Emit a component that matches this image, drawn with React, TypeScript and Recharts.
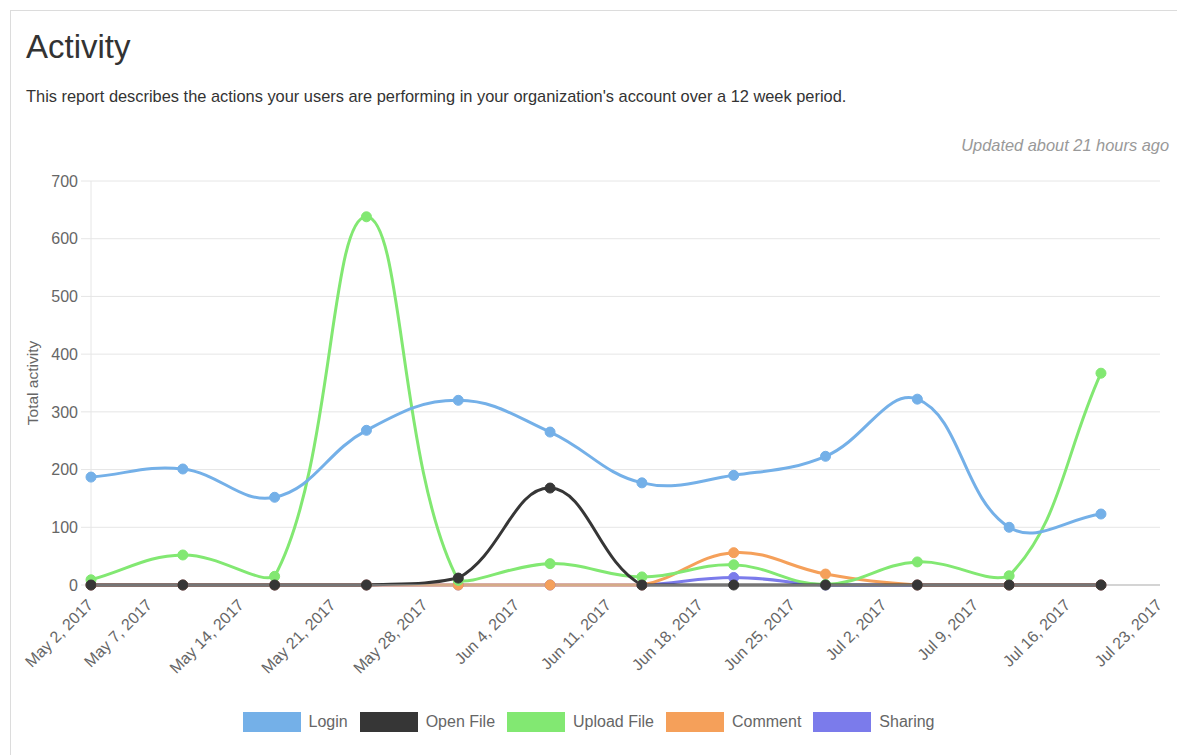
import React from 'react';
import { LineChart, Line, XAxis, YAxis, CartesianGrid, Legend } from 'recharts';

// weekly buckets (the points sit around midday)
const weekDates = [
  '2017-05-02', '2017-05-09', '2017-05-16', '2017-05-23', '2017-05-30', '2017-06-06',
  '2017-06-13', '2017-06-20', '2017-06-27', '2017-07-04', '2017-07-11', '2017-07-18',
];
const tickDates = [
  '2017-05-07', '2017-05-14', '2017-05-21', '2017-05-28', '2017-06-04', '2017-06-11',
  '2017-06-18', '2017-06-25', '2017-07-02', '2017-07-09', '2017-07-16', '2017-07-23',
];

const login = [187, 201, 152, 268, 320, 265, 177, 190, 223, 322, 100, 123];
const openFile = [0, 0, 0, 0, 12, 168, 0, 0, 0, 0, 0, 0];
const uploadFile = [9, 52, 15, 638, 8, 37, 14, 35, 1, 40, 16, 367];
const comment = [0, 0, 0, 0, 0, 0, 0, 56, 19, 0, 0, 0];
const sharing = [0, 0, 0, 0, 0, 0, 0, 13, 0, 0, 0, 0];

const yTicks = [0, 100, 200, 300, 400, 500, 600, 700];

const series = [
  { key: 'login', name: 'Login', color: '#74b0e8', values: login },
  { key: 'openFile', name: 'Open File', color: '#363636', values: openFile },
  { key: 'uploadFile', name: 'Upload File', color: '#82e872', values: uploadFile },
  { key: 'comment', name: 'Comment', color: '#f5a05a', values: comment },
  { key: 'sharing', name: 'Sharing', color: '#7b7beb', values: sharing },
];

const MONTHS = ['Jan', 'Feb', 'Mar', 'Apr', 'May', 'Jun', 'Jul', 'Aug', 'Sep', 'Oct', 'Nov', 'Dec'];
const pointTs = (d: string) => Date.parse(d + 'T12:00:00Z');
const dayTs = (d: string) => Date.parse(d + 'T00:00:00Z');
const fmtDate = (v: number) => {
  const d = new Date(v);
  return `${MONTHS[d.getUTCMonth()]} ${d.getUTCDate()}, ${d.getUTCFullYear()}`;
};

const data = weekDates.map((d, i) => {
  const row: Record<string, number> = { t: pointTs(d) };
  series.forEach((s) => (row[s.key] = s.values[i]));
  return row;
});
const xTicks = [pointTs(weekDates[0]), ...tickDates.map(dayTs)];
const xDomain = [pointTs(weekDates[0]), dayTs(tickDates[tickDates.length - 1])];

const FONT = '"Liberation Sans", Arial, sans-serif';
const CHART_W = 1177;
const CHART_H = 605;
const MARGIN = { top: 31, right: 17, left: 0, bottom: 70 };
const X_AXIS_H = 100;
const PLOT_TOP = MARGIN.top;
const PLOT_BOTTOM = CHART_H - MARGIN.bottom - X_AXIS_H;

// chart.js-like spline (tension 0.4) with control points capped to the plot area
function splineCurve(tension: number, top: number, bottom: number) {
  return (context: any) => {
    let pts: number[][] = [];
    return {
      areaStart() {},
      areaEnd() {},
      lineStart() {
        pts = [];
      },
      point(x: number, y: number) {
        pts.push([+x, +y]);
      },
      lineEnd() {
        const n = pts.length;
        if (!n) return;
        const cap = (v: number) => Math.max(top, Math.min(bottom, v));
        const cps = pts.map((p, i) => {
          const prev = pts[Math.max(0, i - 1)];
          const next = pts[Math.min(n - 1, i + 1)];
          const d01 = Math.hypot(p[0] - prev[0], p[1] - prev[1]);
          const d12 = Math.hypot(next[0] - p[0], next[1] - p[1]);
          let s01 = d01 / (d01 + d12);
          let s12 = d12 / (d01 + d12);
          if (!isFinite(s01)) s01 = 0;
          if (!isFinite(s12)) s12 = 0;
          const fa = tension * s01;
          const fb = tension * s12;
          return {
            px: p[0] - fa * (next[0] - prev[0]),
            py: cap(p[1] - fa * (next[1] - prev[1])),
            nx: p[0] + fb * (next[0] - prev[0]),
            ny: cap(p[1] + fb * (next[1] - prev[1])),
          };
        });
        context.moveTo(pts[0][0], pts[0][1]);
        for (let i = 1; i < n; i++) {
          context.bezierCurveTo(cps[i - 1].nx, cps[i - 1].ny, cps[i].px, cps[i].py, pts[i][0], pts[i][1]);
        }
      },
    };
  };
}
const curve = splineCurve(0.4, PLOT_TOP, PLOT_BOTTOM);

const XTick = (props: any) => {
  const { x, y, payload } = props;
  return (
    <g transform={`translate(${x + 3},${y + 13})`}>
      <text x={0} y={0} textAnchor="end" transform="rotate(-45)" fill="#666" fontSize={16} fontFamily={FONT}>
        {fmtDate(payload.value)}
      </text>
    </g>
  );
};

const YLabel = (props: any) => {
  const { x, y, height } = props.viewBox;
  const cx = x + 38;
  const cy = y + height / 2;
  return (
    <text x={cx} y={cy} transform={`rotate(-90 ${cx} ${cy})`} textAnchor="middle" fill="#666" fontSize={15.5} fontFamily={FONT}>
      Total activity
    </text>
  );
};

const LegendContent = () => (
  <div style={{ display: 'flex', justifyContent: 'center', alignItems: 'center', fontFamily: FONT, fontSize: 16, color: '#666' }}>
    {series.map((s, i) => (
      <div key={s.key} style={{ display: 'flex', alignItems: 'center', marginLeft: i === 0 ? 0 : 12 }}>
        <span style={{ display: 'inline-block', width: 58, height: 20, background: s.color, marginRight: 8 }} />
        <span>{s.name}</span>
      </div>
    ))}
  </div>
);

export default function App() {
  // chart.js paints the first dataset on top, so draw in reverse
  const drawOrder = [...series].reverse();
  return (
    <div style={{ position: 'fixed', inset: 0, overflow: 'hidden', background: '#fff', fontFamily: FONT }}>
      <div
        style={{
          position: 'absolute', left: 10, top: 10, width: 1167, height: 745, boxSizing: 'border-box',
          borderLeft: '1px solid #dcdcdc', borderTop: '1px solid #dcdcdc',
        }}
      />
      <div style={{ position: 'absolute', left: 26, top: 31, fontSize: 33, lineHeight: '32px', color: '#333' }}>Activity</div>
      <div style={{ position: 'absolute', left: 26, top: 88, fontSize: 16.4, lineHeight: '16px', color: '#333' }}>
        This report describes the actions your users are performing in your organization's account over a 12 week period.
      </div>
      <div style={{ position: 'absolute', right: 8, top: 137, fontSize: 16.4, lineHeight: '16px', color: '#999', fontStyle: 'italic' }}>
        Updated about 21 hours ago
      </div>
      <div style={{ position: 'absolute', left: 0, top: 150 }}>
        <LineChart width={CHART_W} height={CHART_H} data={data} margin={MARGIN}>
          <CartesianGrid vertical={false} stroke="#e6e6e6" />
          <XAxis
            dataKey="t"
            type="number"
            scale="time"
            domain={xDomain}
            ticks={xTicks}
            interval={0}
            height={X_AXIS_H}
            tick={<XTick />}
            tickLine={false}
            axisLine={{ stroke: '#b5b5b5' }}
          />
          <YAxis
            domain={[0, 700]}
            ticks={yTicks}
            width={91}
            tickSize={10}
            tickMargin={3}
            tick={{ fill: '#666', fontSize: 16, fontFamily: FONT }}
            tickLine={{ stroke: '#e6e6e6' }}
            axisLine={{ stroke: '#e6e6e6' }}
            label={YLabel}
          />
          {drawOrder.map((s) => (
            <Line
              key={s.key}
              dataKey={s.key}
              name={s.name}
              type={curve as any}
              stroke={s.color}
              strokeWidth={3}
              dot={{ r: 5, fill: s.color, stroke: s.color, strokeWidth: 1 }}
              activeDot={false}
              isAnimationActive={false}
            />
          ))}
          <Legend
            layout="horizontal"
            align="center"
            verticalAlign="middle"
            wrapperStyle={{ top: 562, left: 0, width: CHART_W }}
            content={<LegendContent />}
          />
        </LineChart>
      </div>
    </div>
  );
}
